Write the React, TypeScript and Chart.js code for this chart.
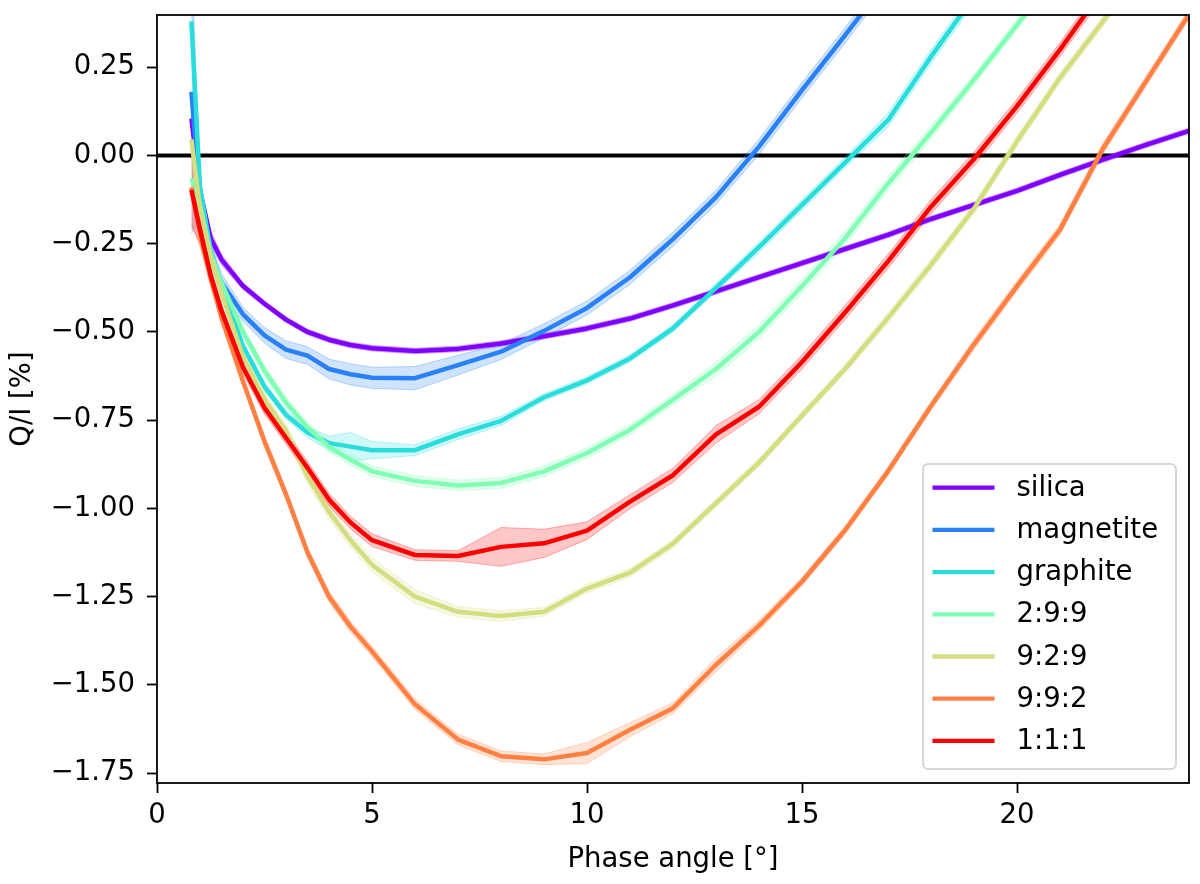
import { useEffect, useRef } from "react";
import Chart from "chart.js/auto";

// phase angles (deg) at which the Q/I curves were sampled
const PHASE = [0.8, 1.0, 1.25, 1.5, 2, 2.5, 3, 3.5, 4, 4.5, 5, 6, 7, 8, 9, 10, 11, 12, 13, 14, 15, 16, 17, 18, 19, 20, 21, 22, 23, 24];

const SERIES = ["silica", "magnetite", "graphite", "2:9:9", "9:2:9", "9:9:2", "1:1:1"];
const COLORS = ["#8000ff", "#2a80f6", "#2adddd", "#80ffb4", "#d4dd80", "#ff8042", "#ff0000"];

// Q/I [%] per sample, follows PHASE
const SILICA = [0.105, -0.1, -0.235, -0.295, -0.37, -0.42, -0.465, -0.5, -0.522, -0.537, -0.546, -0.554, -0.548, -0.533, -0.512, -0.49, -0.462, -0.425, -0.385, -0.345, -0.305, -0.265, -0.225, -0.18, -0.14, -0.1, -0.055, -0.012, 0.03, 0.07];
const MAGNETITE = [0.18, -0.13, -0.28, -0.36, -0.45, -0.51, -0.55, -0.567, -0.605, -0.62, -0.63, -0.631, -0.594, -0.556, -0.497, -0.432, -0.345, -0.237, -0.118, 0.025, 0.185, 0.34, 0.5];
const GRAPHITE = [0.38, -0.09, -0.27, -0.37, -0.54, -0.655, -0.735, -0.785, -0.815, -0.825, -0.835, -0.835, -0.79, -0.752, -0.685, -0.637, -0.575, -0.49, -0.375, -0.26, -0.14, -0.02, 0.1, 0.28, 0.45];
const MIX_299 = [-0.065, -0.14, -0.28, -0.36, -0.5, -0.61, -0.7, -0.77, -0.825, -0.862, -0.895, -0.922, -0.935, -0.928, -0.895, -0.843, -0.777, -0.692, -0.605, -0.5, -0.37, -0.235, -0.08, 0.065, 0.215, 0.37, 0.53];
const MIX_929 = [0.045, -0.15, -0.29, -0.39, -0.57, -0.69, -0.78, -0.91, -1.01, -1.09, -1.16, -1.25, -1.293, -1.305, -1.293, -1.227, -1.182, -1.1, -0.985, -0.87, -0.737, -0.605, -0.46, -0.31, -0.15, 0.04, 0.22, 0.38, 0.55];
const MIX_992 = [-0.09, -0.22, -0.35, -0.46, -0.64, -0.81, -0.96, -1.125, -1.25, -1.335, -1.405, -1.555, -1.655, -1.702, -1.711, -1.693, -1.627, -1.566, -1.443, -1.332, -1.207, -1.062, -0.895, -0.71, -0.535, -0.37, -0.21, 0.02, 0.21, 0.4];
const MIX_111 = [-0.098, -0.21, -0.34, -0.44, -0.6, -0.715, -0.8, -0.885, -0.975, -1.04, -1.09, -1.132, -1.135, -1.109, -1.099, -1.063, -0.981, -0.906, -0.79, -0.712, -0.585, -0.445, -0.3, -0.145, -0.01, 0.14, 0.3, 0.47];

// half width of the shaded band
const SILICA_ERR = [0.01, 0.02, 0.02, 0.015, 0.01, 0.008, 0.008, 0.008, 0.008, 0.008, 0.008, 0.008, 0.008, 0.008, 0.008, 0.008, 0.008, 0.008, 0.008, 0.008, 0.008, 0.008, 0.008, 0.008, 0.008, 0.008, 0.008, 0.008, 0.008, 0.008];
const MAGNETITE_ERR = [0.4, 0.05, 0.03, 0.025, 0.02, 0.022, 0.025, 0.025, 0.028, 0.03, 0.03, 0.033, 0.028, 0.022, 0.02, 0.02, 0.02, 0.02, 0.02, 0.022, 0.022, 0.022, 0.022];
const GRAPHITE_ERR = [0.05, 0.03, 0.02, 0.015, 0.012, 0.012, 0.012, 0.015, 0.02, 0.04, 0.025, 0.015, 0.015, 0.013, 0.01, 0.01, 0.01, 0.01, 0.012, 0.015, 0.015, 0.015, 0.02, 0.02, 0.02];
const MIX_299_ERR = [0.03, 0.02, 0.018, 0.015, 0.015, 0.015, 0.015, 0.015, 0.015, 0.015, 0.015, 0.015, 0.015, 0.015, 0.015, 0.015, 0.015, 0.015, 0.02, 0.02, 0.02, 0.02, 0.02, 0.02, 0.015, 0.015, 0.015];
const MIX_929_ERR = [0.03, 0.02, 0.018, 0.015, 0.015, 0.015, 0.018, 0.02, 0.02, 0.02, 0.02, 0.02, 0.015, 0.015, 0.012, 0.012, 0.012, 0.012, 0.012, 0.012, 0.012, 0.012, 0.015, 0.015, 0.015, 0.015, 0.015, 0.015, 0.015];
const MIX_992_ERR = [0.1, 0.04, 0.02, 0.015, 0.015, 0.015, 0.015, 0.015, 0.015, 0.015, 0.015, 0.015, 0.015, 0.015, 0.015, 0.03, 0.02, 0.015, 0.02, 0.015, 0.012, 0.012, 0.012, 0.012, 0.015, 0.015, 0.015, 0.015, 0.015, 0.015];
const MIX_111_ERR = [0.1, 0.04, 0.02, 0.018, 0.018, 0.018, 0.018, 0.018, 0.018, 0.018, 0.018, 0.015, 0.015, 0.055, 0.04, 0.025, 0.02, 0.02, 0.025, 0.02, 0.02, 0.02, 0.02, 0.02, 0.02, 0.02, 0.02, 0.02];

const VALUES = [SILICA, MAGNETITE, GRAPHITE, MIX_299, MIX_929, MIX_992, MIX_111];
const ERRORS = [SILICA_ERR, MAGNETITE_ERR, GRAPHITE_ERR, MIX_299_ERR, MIX_929_ERR, MIX_992_ERR, MIX_111_ERR];

const X_TICKS = [0, 5, 10, 15, 20];
const Y_TICKS = [-1.75, -1.5, -1.25, -1.0, -0.75, -0.5, -0.25, 0, 0.25];

const FONT = "DejaVu Sans";
const FONT_SIZE = 27.5;

function rgba(hex: string, a: number) {
  const n = parseInt(hex.slice(1), 16);
  return `rgba(${(n >> 16) & 255},${(n >> 8) & 255},${n & 255},${a})`;
}

// box around the plot area, drawn over the curves like matplotlib spines
const framePlugin = {
  id: "frame",
  afterDatasetsDraw(chart: Chart) {
    const { ctx, chartArea: a } = chart;
    ctx.save();
    ctx.strokeStyle = "#000";
    ctx.lineWidth = 1.8;
    ctx.strokeRect(a.left, a.top, a.right - a.left, a.bottom - a.top);
    ctx.restore();
  },
};

// legend in the lower right corner of the plot area
const legendPlugin = {
  id: "insetLegend",
  afterDraw(chart: Chart) {
    const { ctx, chartArea: a } = chart;
    const w = 253;
    const h = 305;
    const x = a.right - 13 - w;
    const y = a.bottom - 14 - h;
    ctx.save();
    ctx.beginPath();
    ctx.roundRect(x, y, w, h, 5);
    ctx.fillStyle = "rgba(255,255,255,0.8)";
    ctx.fill();
    ctx.strokeStyle = "#cccccc";
    ctx.lineWidth = 1.5;
    ctx.stroke();
    ctx.font = `${FONT_SIZE}px "${FONT}"`;
    ctx.textBaseline = "middle";
    ctx.textAlign = "left";
    SERIES.forEach((name, i) => {
      const cy = y + 23.7 + i * 42.2;
      ctx.beginPath();
      ctx.moveTo(x + 9.5, cy);
      ctx.lineTo(x + 71.5, cy);
      ctx.strokeStyle = COLORS[i];
      ctx.lineWidth = 4.3;
      ctx.stroke();
      ctx.fillStyle = "#000";
      ctx.fillText(name, x + 93.5, cy + 1);
    });
    ctx.restore();
  },
};

export default function App() {
  const ref = useRef<HTMLCanvasElement>(null);

  useEffect(() => {
    if (!ref.current) return;

    const datasets: any[] = [];
    SERIES.forEach((name, i) => {
      const vals = VALUES[i];
      const errs = ERRORS[i];
      const c = COLORS[i];
      datasets.push({
        label: `${name} low`,
        data: vals.map((v, k) => ({ x: PHASE[k], y: v - errs[k] })),
        borderColor: rgba(c, 0.3),
        borderWidth: 1,
        pointRadius: 0,
        fill: false,
        order: 60 - i,
      });
      datasets.push({
        label: `${name} high`,
        data: vals.map((v, k) => ({ x: PHASE[k], y: v + errs[k] })),
        borderColor: rgba(c, 0.3),
        borderWidth: 1,
        pointRadius: 0,
        backgroundColor: rgba(c, 0.22),
        fill: "-1",
        order: 60 - i,
      });
      datasets.push({
        label: name,
        data: vals.map((v, k) => ({ x: PHASE[k], y: v })),
        borderColor: c,
        borderWidth: 4.5,
        borderJoinStyle: "round",
        pointRadius: 0,
        fill: false,
        order: 30 - i,
      });
    });
    datasets.push({
      label: "zero",
      data: [{ x: 0, y: 0 }, { x: 24, y: 0 }],
      borderColor: "#000",
      borderWidth: 4,
      pointRadius: 0,
      fill: false,
      order: 100,
    });

    const chart = new Chart(ref.current, {
      type: "line",
      data: { datasets },
      options: {
        animation: false,
        responsive: true,
        maintainAspectRatio: false,
        clip: 0,
        layout: { padding: { top: 15, right: 11, left: 0, bottom: 0 } },
        plugins: {
          legend: { display: false },
          tooltip: { enabled: false },
        },
        scales: {
          x: {
            type: "linear",
            min: 0,
            max: 24,
            afterBuildTicks: (s: any) => {
              s.ticks = X_TICKS.map((v) => ({ value: v }));
            },
            afterFit: (s: any) => {
              s.height = 101;
              s.paddingLeft = 0;
              s.paddingRight = 0;
            },
            border: { display: false },
            grid: { drawOnChartArea: false, drawTicks: true, tickLength: 10, tickWidth: 1.8, tickColor: "#000" },
            ticks: {
              color: "#000",
              font: { family: FONT, size: FONT_SIZE },
              padding: 6,
              maxRotation: 0,
              autoSkip: false,
              callback: (v: any) => String(v),
            },
            title: {
              display: true,
              text: "Phase angle [°]",
              color: "#000",
              font: { family: FONT, size: FONT_SIZE },
              padding: { bottom: 8 },
            },
          },
          y: {
            type: "linear",
            min: -1.778,
            max: 0.398,
            afterBuildTicks: (s: any) => {
              s.ticks = Y_TICKS.map((v) => ({ value: v }));
            },
            afterFit: (s: any) => {
              s.width = 157;
              s.paddingTop = 0;
              s.paddingBottom = 0;
            },
            border: { display: false },
            grid: { drawOnChartArea: false, drawTicks: true, tickLength: 10, tickWidth: 1.8, tickColor: "#000" },
            ticks: {
              color: "#000",
              font: { family: FONT, size: FONT_SIZE },
              padding: 12,
              autoSkip: false,
              callback: (v: any) => Number(v).toFixed(2).replace("-", "\u2212"),
            },
            title: {
              display: true,
              text: "Q/I [%]",
              color: "#000",
              font: { family: FONT, size: FONT_SIZE },
              padding: { top: 6 },
            },
          },
        },
      },
      plugins: [framePlugin, legendPlugin],
    });

    return () => {
      chart.destroy();
    };
  }, []);

  return (
    <div style={{ position: "absolute", left: 0, top: 0, width: 1200, height: 884 }}>
      <canvas ref={ref} />
    </div>
  );
}
